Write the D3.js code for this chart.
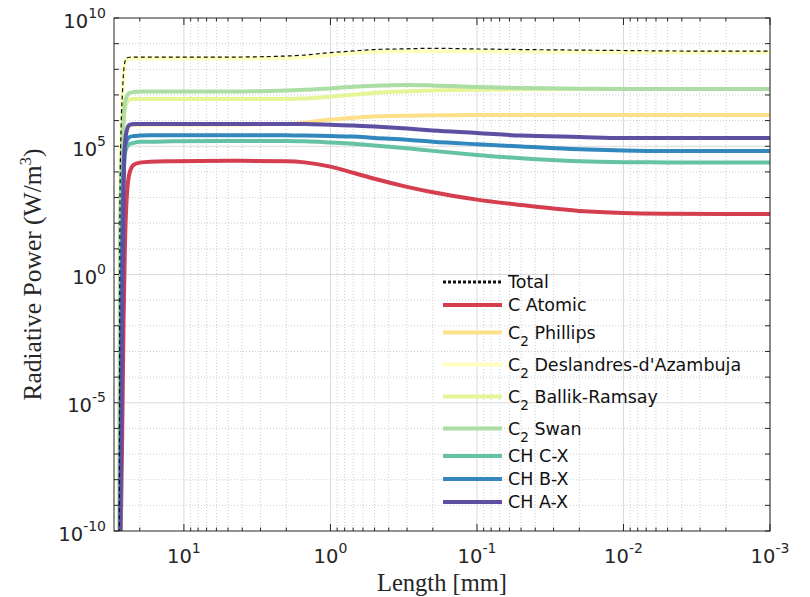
<!DOCTYPE html>
<html>
<head>
<meta charset="utf-8">
<script src="https://cdn.jsdelivr.net/npm/d3@7"></script>
<style>
body { margin: 0; background: #fff; }
</style>
</head>
<body>
<div id="chart"></div>
<script>
// length along the flame [mm] (plotted reversed)
var lengths = [27.6, 27.3, 26.8, 26.3, 25.8, 25.3, 24.5, 23.5, 22, 20, 17, 12, 5, 2, 1.5, 1, 0.7, 0.5, 0.3, 0.2, 0.1, 0.05, 0.02, 0.01, 0.005, 0.002, 0.001];

// radiative power [W/m^3]
var total = [1e-12, 1e3, 7.1e5, 1.05e7, 7.8e7, 1.9e8, 2.75e8, 2.95e8, 3.0e8, 3.0e8, 3.0e8, 3.0e8, 3.0e8, 3.3e8, 3.6e8, 4.5e8, 5.2e8, 5.9e8, 6.3e8, 6.6e8, 6.2e8, 5.9e8, 5.6e8, 5.4e8, 5.2e8, 5.1e8, 5.1e8];
var cAtomic = [1e-12, 1e-11, 1e-9, 2.1e-6, 0.017, 8.9, 1.26e3, 9.1e3, 1.9e4, 2.3e4, 2.5e4, 2.6e4, 2.7e4, 2.6e4, 2.35e4, 1.6e4, 9.3e3, 5.4e3, 2.6e3, 1.6e3, 830, 510, 300, 250, 235, 230, 230];
var c2Phillips = [1e-12, 1e-11, 0.1, 800, 7.1e4, 3.3e5, 5.6e5, 6.5e5, 6.8e5, 7.1e5, 7.1e5, 7.1e5, 7.1e5, 7.4e5, 8.3e5, 1.1e6, 1.3e6, 1.45e6, 1.55e6, 1.6e6, 1.65e6, 1.65e6, 1.65e6, 1.65e6, 1.65e6, 1.65e6, 1.65e6];
var c2Deslandres = [1e-12, 1e3, 6.8e5, 1.0e7, 6.0e7, 1.6e8, 2.4e8, 2.6e8, 2.7e8, 2.7e8, 2.7e8, 2.7e8, 2.7e8, 2.75e8, 2.95e8, 3.6e8, 4.3e8, 4.8e8, 5.1e8, 5.1e8, 5.0e8, 4.9e8, 4.8e8, 4.7e8, 4.6e8, 4.6e8, 4.6e8];
var c2Ballik = [1e-12, 1, 1.95e3, 7.1e4, 6.8e5, 2.6e6, 5.2e6, 6.6e6, 6.9e6, 6.9e6, 6.9e6, 6.9e6, 6.9e6, 6.9e6, 7.2e6, 8.5e6, 1.02e7, 1.2e7, 1.38e7, 1.5e7, 1.6e7, 1.65e7, 1.7e7, 1.7e7, 1.7e7, 1.7e7, 1.7e7];
var c2Swan = [1e-12, 10, 4.8e3, 1.7e5, 1.26e6, 4.5e6, 9.1e6, 1.2e7, 1.3e7, 1.35e7, 1.35e7, 1.35e7, 1.35e7, 1.5e7, 1.6e7, 1.8e7, 2.1e7, 2.3e7, 2.45e7, 2.35e7, 2.05e7, 1.85e7, 1.75e7, 1.7e7, 1.7e7, 1.7e7, 1.7e7];
var chCX = [1e-12, 1e-11, 6.9e-3, 130, 7.6e3, 4.6e4, 9.3e4, 1.2e5, 1.35e5, 1.5e5, 1.5e5, 1.55e5, 1.6e5, 1.6e5, 1.55e5, 1.4e5, 1.26e5, 1.07e5, 8.3e4, 6.6e4, 4.6e4, 3.4e4, 2.6e4, 2.4e4, 2.35e4, 2.35e4, 2.35e4];
var chBX = [1e-12, 1e-11, 1.1e-3, 54, 1.9e4, 8.5e4, 1.7e5, 2.3e5, 2.5e5, 2.6e5, 2.7e5, 2.7e5, 2.7e5, 2.7e5, 2.6e5, 2.5e5, 2.4e5, 2.1e5, 1.8e5, 1.5e5, 1.2e5, 9.8e4, 7.6e4, 6.8e4, 6.5e4, 6.5e4, 6.5e4];
var chAX = [1e-12, 1e-11, 3.5e-7, 0.1, 2.0e3, 1.1e5, 4.3e5, 6.8e5, 7.3e5, 7.4e5, 7.4e5, 7.4e5, 7.4e5, 7.4e5, 7.3e5, 6.9e5, 6.5e5, 5.9e5, 4.9e5, 4.1e5, 3.3e5, 2.6e5, 2.3e5, 2.1e5, 2.1e5, 2.1e5, 2.1e5];

var xTickExps = [1, 0, -1, -2, -3];
var yTickExps = [10, 5, 0, -5, -10];

var w = 810, h = 597;
var plotLeft = 114, plotRight = 770, plotTop = 18, plotBottom = 531;
var axisColor = '#262626';

var svg = d3.select('#chart').append('svg').attr('width', w).attr('height', h);

var x = d3.scaleLog().domain([30, 1e-3]).range([plotLeft, plotRight]);
var y = d3.scaleLog().domain([1e-10, 1e10]).range([plotBottom, plotTop]);

// grid lines
var xMinor = [];
for (var e = -3; e <= 1; e++) {
	for (var k = 2; k <= 9; k++) {
		var v = k * Math.pow(10, e);
		if (v < 30) xMinor.push(v);
	}
}
var yDecades = d3.range(-9, 10);

var grid = svg.append('g');
grid.selectAll('.xminor').data(xMinor).enter().append('line')
	.attr('x1', function(d) { return x(d); }).attr('x2', function(d) { return x(d); })
	.attr('y1', plotTop).attr('y2', plotBottom)
	.attr('stroke', '#cfcfcf').attr('stroke-dasharray', '1,2');
grid.selectAll('.xmajor').data(xTickExps).enter().append('line')
	.attr('x1', function(d) { return x(Math.pow(10, d)); }).attr('x2', function(d) { return x(Math.pow(10, d)); })
	.attr('y1', plotTop).attr('y2', plotBottom)
	.attr('stroke', '#dadada');
grid.selectAll('.ygrid').data(yDecades).enter().append('line')
	.attr('x1', plotLeft).attr('x2', plotRight)
	.attr('y1', function(d) { return y(Math.pow(10, d)); }).attr('y2', function(d) { return y(Math.pow(10, d)); })
	.attr('stroke', function(d) { return d % 5 === 0 ? '#dadada' : '#cfcfcf'; })
	.attr('stroke-dasharray', function(d) { return d % 5 === 0 ? null : '1,2'; });

// series
var series = [
	{ name: 'C Atomic', values: cAtomic, color: '#d53e4f' },
	{ name: 'C', sub: '2', rest: ' Phillips', values: c2Phillips, color: '#fee08b' },
	{ name: 'C', sub: '2', rest: " Deslandres-d'Azambuja", values: c2Deslandres, color: '#ffffbf' },
	{ name: 'C', sub: '2', rest: ' Ballik-Ramsay', values: c2Ballik, color: '#e6f598' },
	{ name: 'C', sub: '2', rest: ' Swan', values: c2Swan, color: '#abdda4' },
	{ name: 'CH C-X', values: chCX, color: '#66c2a5' },
	{ name: 'CH B-X', values: chBX, color: '#3288bd' },
	{ name: 'CH A-X', values: chAX, color: '#5e4fa2' }
];

svg.append('clipPath').attr('id', 'plotclip').append('rect')
	.attr('x', plotLeft).attr('y', plotTop).attr('width', plotRight - plotLeft).attr('height', plotBottom - plotTop);

var line = d3.line()
	.x(function(d) { return x(d[0]); })
	.y(function(d) { return y(d[1]); })
	.curve(d3.curveMonotoneX);

function pairs(vals) {
	return lengths.map(function(l, i) { return [l, vals[i]]; });
}

var plot = svg.append('g').attr('clip-path', 'url(#plotclip)');
plot.selectAll('path.s').data(series).enter().append('path')
	.attr('d', function(d) { return line(pairs(d.values)); })
	.attr('fill', 'none')
	.attr('stroke', function(d) { return d.color; })
	.attr('stroke-width', 4);
plot.append('path')
	.attr('d', line(pairs(total)))
	.attr('fill', 'none')
	.attr('stroke', '#111')
	.attr('stroke-width', 1.2)
	.attr('stroke-dasharray', '4,3');

// box and ticks
svg.append('rect').attr('x', plotLeft).attr('y', plotTop).attr('width', plotRight - plotLeft).attr('height', plotBottom - plotTop)
	.attr('fill', 'none').attr('stroke', axisColor).attr('stroke-width', 1);

var ticks = svg.append('g').attr('stroke', axisColor).attr('stroke-width', 1);
d3.range(-10, 11).forEach(function(d) {
	var yy = y(Math.pow(10, d));
	ticks.append('line').attr('x1', plotLeft).attr('x2', plotLeft + 5).attr('y1', yy).attr('y2', yy);
	ticks.append('line').attr('x1', plotRight).attr('x2', plotRight - 5).attr('y1', yy).attr('y2', yy);
});
xTickExps.forEach(function(d) {
	var xx = x(Math.pow(10, d));
	ticks.append('line').attr('x1', xx).attr('x2', xx).attr('y1', plotBottom).attr('y2', plotBottom - 7);
	ticks.append('line').attr('x1', xx).attr('x2', xx).attr('y1', plotTop).attr('y2', plotTop + 7);
});
xMinor.forEach(function(d) {
	var xx = x(d);
	ticks.append('line').attr('x1', xx).attr('x2', xx).attr('y1', plotBottom).attr('y2', plotBottom - 3.5);
	ticks.append('line').attr('x1', xx).attr('x2', xx).attr('y1', plotTop).attr('y2', plotTop + 3.5);
});

// tick labels
function powLabel(t, exp) {
	t.append('tspan').text('10');
	t.append('tspan').attr('dy', -10).attr('font-size', 14).text(exp);
}

svg.selectAll('.ylab').data(yTickExps).enter().append('text')
	.attr('x', 106)
	.attr('y', function(d) { return y(Math.pow(10, d)) + 9.5; })
	.attr('text-anchor', 'end')
	.attr('font-family', 'DejaVu Sans, sans-serif')
	.attr('font-size', 19.5)
	.attr('fill', axisColor)
	.each(function(d) { powLabel(d3.select(this), d); });

svg.selectAll('.xlab').data(xTickExps).enter().append('text')
	.attr('x', function(d) { return x(Math.pow(10, d)); })
	.attr('y', 563)
	.attr('text-anchor', 'middle')
	.attr('font-family', 'DejaVu Sans, sans-serif')
	.attr('font-size', 19.5)
	.attr('fill', axisColor)
	.each(function(d) { powLabel(d3.select(this), d); });

// axis titles
svg.append('text')
	.attr('x', (plotLeft + plotRight) / 2).attr('y', 591)
	.attr('text-anchor', 'middle')
	.attr('font-family', 'Liberation Serif, serif')
	.attr('font-size', 24.5)
	.attr('fill', axisColor)
	.text('Length [mm]');

var yt = svg.append('text')
	.attr('transform', 'translate(41,' + ((plotTop + plotBottom) / 2) + ') rotate(-90)')
	.attr('text-anchor', 'middle')
	.attr('font-family', 'Liberation Serif, serif')
	.attr('font-size', 25.5)
	.attr('fill', axisColor);
yt.append('tspan').text('Radiative Power (W/m');
yt.append('tspan').attr('dy', -10).attr('font-size', 17).text('3');
yt.append('tspan').attr('dy', 10).text(')');

// legend
var legendItems = [{ name: 'Total', dashed: true }].concat(series);
var ly = 282, prevSub = false;
var legend = svg.append('g').attr('font-family', 'DejaVu Sans, sans-serif').attr('font-size', 17.5).attr('fill', '#111');
legendItems.forEach(function(d, i) {
	if (i > 0) ly += 23 + (d.sub ? 4.5 : 0) + (prevSub ? 4.5 : 0);
	prevSub = !!d.sub;
	legend.append('line')
		.attr('x1', 443).attr('x2', 502).attr('y1', ly).attr('y2', ly)
		.attr('stroke', d.dashed ? '#111' : d.color)
		.attr('stroke-width', d.dashed ? 3 : 4)
		.attr('stroke-dasharray', d.dashed ? '3,2' : null);
	var t = legend.append('text').attr('x', 508).attr('y', ly + 6);
	t.append('tspan').text(d.name);
	if (d.sub) {
		t.append('tspan').attr('dy', 7).attr('font-size', 13.5).text(d.sub);
		t.append('tspan').attr('dy', -7).text(d.rest);
	}
});
</script>
</body>
</html>
